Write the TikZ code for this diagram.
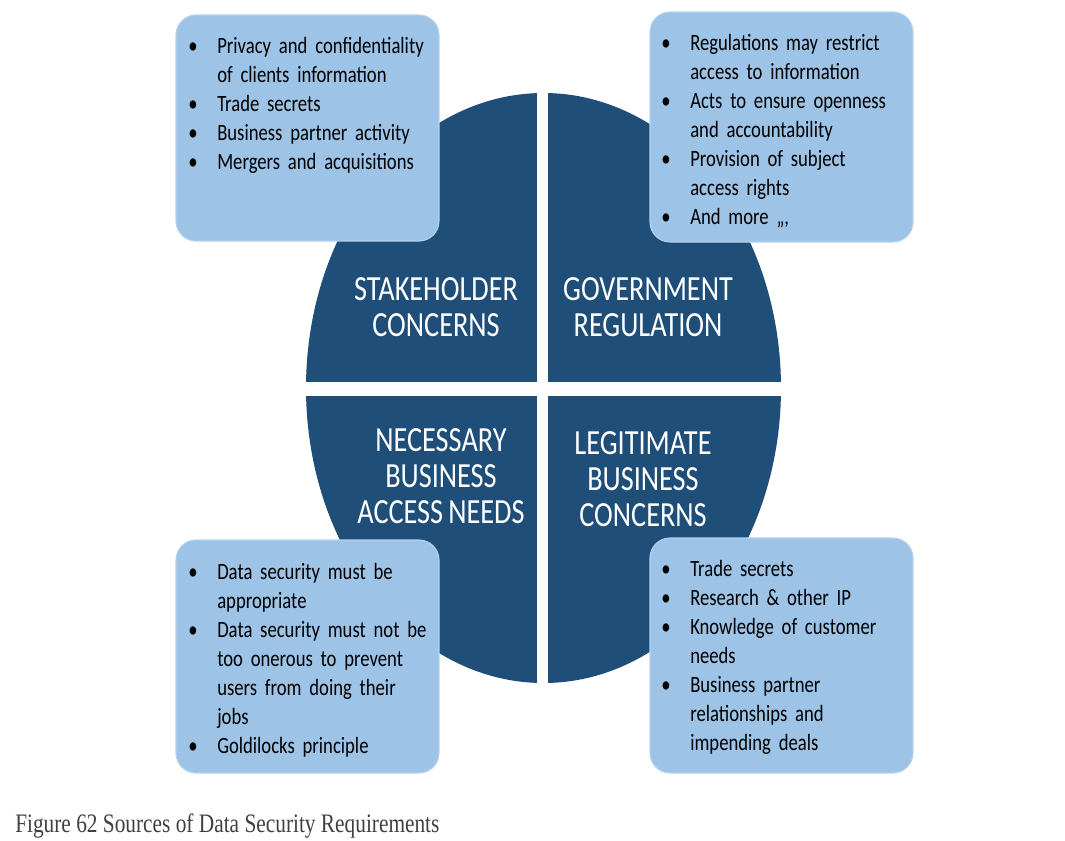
\documentclass[tikz,border=0pt]{standalone}
\usepackage{fontspec}
\setmainfont{Carlito}[FakeStretch=0.8, WordSpace=0.8]
\newfontfamily\captionfont{Liberation Serif}[FakeStretch=0.8]
\usetikzlibrary{positioning}
\definecolor{quadblue}{HTML}{1F4E79}
\definecolor{boxblue}{HTML}{9DC3E6}
\definecolor{captiongray}{HTML}{404040}
\tikzset{
	infobox/.style={fill=boxblue, draw=boxblue!75!white, line width=0.8pt, rounded corners=15pt}
}
\tikzset{
	listtext/.style={anchor=north west, inner sep=0pt, text width=210pt, align=left,
		font=\fontsize{17.5}{21.75}\selectfont}
}
\tikzset{
	quadlabel/.style={text=white, align=center, inner sep=0pt, font=\fontsize{26.5}{27}\selectfont}
}
\newcommand{\bitem}[1]{\par\noindent\hangindent=21.75pt\hangafter=1\makebox[21.75pt][l]{\textbullet}#1\par}

\begin{document}
\begin{tikzpicture}[x=0.75pt, y=-0.75pt]
  \useasboundingbox (0,0) rectangle (1065,840);
  % four quarters of the disc
  \begin{scope}
    \clip (543.5,388) ellipse [x radius=178.125pt, y radius=221.25pt];
    \fill[quadblue] (300,85) rectangle (537,382);
    \fill[quadblue] (548,85) rectangle (790,382);
    \fill[quadblue] (300,396) rectangle (537,690);
    \fill[quadblue] (548,396) rectangle (790,690);
  \end{scope}
  \node[quadlabel] (stake) at (436,307) {STAKEHOLDER\\CONCERNS};
  \node[quadlabel] (gov) at (648,307) {GOVERNMENT\\REGULATION};
  \node[quadlabel] (need) at (441,476) {NECESSARY\\BUSINESS\\ACCESS NEEDS};
  \node[quadlabel] (legit) at (643,479) {LEGITIMATE\\BUSINESS\\CONCERNS};
  % the four boxes
  \path[infobox] (176,15) rectangle (439,241);
  \path[infobox] (650,12) rectangle (913,242);
  \path[infobox] (176,540) rectangle (439,773);
  \path[infobox] (650,538) rectangle (913,773);
  \node[listtext] (stakelist) at (188,24) {%
    \bitem{Privacy and confidentiality\newline of clients information}
    \bitem{Trade secrets}
    \bitem{Business partner activity}
    \bitem{Mergers and acquisitions}};
  \node[listtext] (govlist) at (661,21) {%
    \bitem{Regulations may restrict\newline access to information}
    \bitem{Acts to ensure openness\newline and accountability}
    \bitem{Provision of subject\newline access rights}
    \bitem{And more ,,,}};
  \node[listtext] (needlist) at (188,550) {%
    \bitem{Data security must be\newline appropriate}
    \bitem{Data security must not be\newline too onerous to prevent\newline users from doing their\newline jobs}
    \bitem{Goldilocks principle}};
  \node[listtext] (legitlist) at (661,547) {%
    \bitem{Trade secrets}
    \bitem{Research \& other IP}
    \bitem{Knowledge of customer\newline needs}
    \bitem{Business partner\newline relationships and\newline impending deals}};
  \node[anchor=base west, inner sep=0pt, text=captiongray,
    font=\captionfont\fontsize{20}{22}\selectfont] (caption) at (15,832)
    {Figure 62 Sources of Data Security Requirements};
\end{tikzpicture}
\end{document}
